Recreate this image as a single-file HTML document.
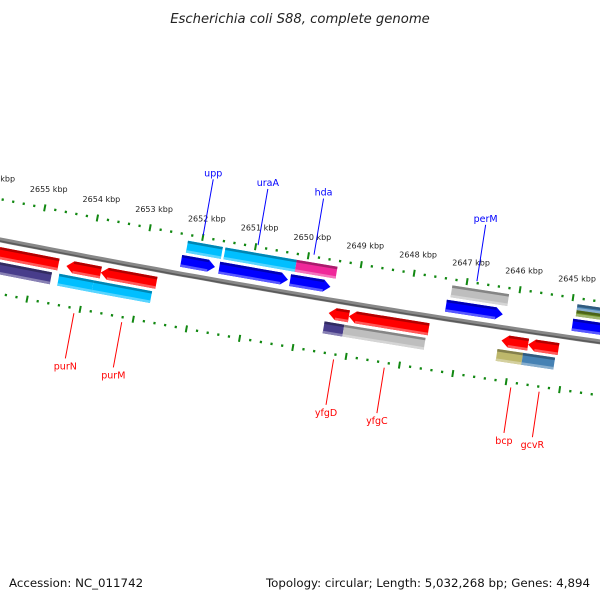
<!DOCTYPE html>
<html><head><meta charset="utf-8">
<style>
body{margin:0;background:#fff;}
svg{display:block;font-family:"DejaVu Sans","Liberation Sans",sans-serif;}
</style></head>
<body>
<svg id="map" width="600" height="600" viewBox="0 0 600 600" xmlns="http://www.w3.org/2000/svg">
<text x="300" y="23" text-anchor="middle" font-size="13.2" font-style="italic" fill="#222">Escherichia coli S88, complete genome</text>
<g id="ruler"></g>
<g id="genes"></g>
<g id="labels"></g>
<text x="9" y="587" font-size="11.8" fill="#111">Accession: NC_011742</text>
<text x="590" y="587" text-anchor="end" font-size="11.8" fill="#111">Topology: circular; Length: 5,032,268 bp; Genes: 4,894</text>
</svg>
<script>
// ---- data ----
const tickKbp = [2656,2655,2654,2653,2652,2651,2650,2649,2648,2647,2646,2645,2644];
const geneStart = [2652.32,2651.60,2650.26,2647.32,2644.94, 2652.26,2651.55,2650.20,2647.26,2644.90,2644.90, 2655.80,2654.40,2653.75,2649.45,2649.07,2646.20,2645.70, 2655.80,2654.50,2653.85,2649.50,2649.13,2646.25,2645.77];
const geneEnd   = [2651.68,2650.30,2649.50,2646.25,2644.00, 2651.60,2650.20,2649.43,2646.19,2644.00,2644.00, 2654.55,2653.75,2652.70,2649.07,2647.57,2645.70,2645.13, 2654.64,2653.85,2652.75,2649.13,2647.60,2645.77,2645.17];
const geneLane  = [1,1,1,1,1, 2,2,2,2,2.1,2.2, -1,-1,-1,-1,-1,-1,-1, -2,-2,-2,-2,-2,-2,-2];
const geneColor = ['#0000ff','#0000ff','#0000ff','#0000ff','#0000ff','#00bfff','#00bfff','#f0289a','#bebebe','#4682b4','#6b8e23','#ff0000','#ff0000','#ff0000','#ff0000','#ff0000','#ff0000','#ff0000','#483d8b','#00bfff','#00bfff','#483d8b','#bebebe','#bdb76b','#4682b4'];
const geneArrow = [1,1,1,1,1, 0,0,0,0,0,0, -1,-1,-1,-1,-1,-1,-1, 0,0,0,0,0,0,0];
const labelText = ['upp','uraA','hda','perM','purN','purM','yfgD','yfgC','bcp','gcvR'];
const labelKbp  = [2652.0,2650.96,2649.9,2646.82,2654.1,2653.2,2649.22,2648.27,2645.9,2645.37];
const labelSide = [1,1,1,1,-1,-1,-1,-1,-1,-1];

// ---- geometry ----
const NS='http://www.w3.org/2000/svg';
const cx=2244, cy=-11141, R=11600, th0=1.7483, dth=0.004636;
function P(k,off){const t=th0+(k-2652)*dth, r=R+off;return [cx+r*Math.cos(t), cy+r*Math.sin(t)];}
function mk(tag,attrs,parent){const e=document.createElementNS(NS,tag);for(const a in attrs)e.setAttribute(a,attrs[a]);parent.appendChild(e);return e;}
function pts(arr){return arr.map(p=>p[0].toFixed(1)+','+p[1].toFixed(1)).join(' ');}

const ruler=document.getElementById('ruler');
let d='';for(let k=2657;k>=2643;k-=0.25){const p=P(k,0);d+=(d?'L':'M')+p[0].toFixed(1)+' '+p[1].toFixed(1);}
const bb=mk('path',{d:d,fill:'none',stroke:'#888','stroke-width':5},ruler);


const bb2=mk('path',{d:d,fill:'none',stroke:'#5a5a5a','stroke-width':1.6,transform:'translate(0,1.2)'},ruler);



[-40,53].forEach(function(off){
  tickKbp.forEach(function(k){
    for(let s=0;s<5;s++){
      const kk=k-s*0.2;
      const half=s===0?3.5:1.2;
      const a=P(kk,off-half),b=P(kk,off+half);
      const ln=mk('line',{x1:a[0],y1:a[1],x2:b[0],y2:b[1],stroke:'#118811','stroke-width':s===0?2:2.2},ruler);
      
      
    }
  });
});
tickKbp.forEach(function(k){
  const p=P(k,-40);
  const t=mk('text',{x:p[0]+4,y:p[1]-16,'text-anchor':'middle','font-size':8,fill:'#222'},ruler);
  t.textContent=k+' kbp';
  
  
});

const laneOff={1:[-19,-7],2:[-34,-22],2.1:[-34,-28],2.2:[-28,-22],'-1':[7,19],'-2':[22,34]};
function shade(hex,f){const n=parseInt(hex.slice(1),16);let r=n>>16,g=(n>>8)&255,b=n&255;
  if(f<0){r*=1+f;g*=1+f;b*=1+f;}else{r+=(255-r)*f;g+=(255-g)*f;b+=(255-b)*f;}
  return 'rgb('+Math.round(r)+','+Math.round(g)+','+Math.round(b)+')';}
const genes=document.getElementById('genes');
geneStart.forEach(function(k1,i){
  const k2=geneEnd[i],o=laneOff[geneLane[i]],a=o[0],b=o[1],m=(a+b)/2,hd=0.13,col=geneColor[i];
  let poly;
  if(geneArrow[i]===1){poly=[P(k1,a),P(k2+hd,a),P(k2,m),P(k2+hd,b),P(k1,b)];}
  else if(geneArrow[i]===-1){poly=[P(k1,m),P(k1-hd,a),P(k2,a),P(k2,b),P(k1-hd,b)];}
  else poly=[P(k1,a),P(k2,a),P(k2,b),P(k1,b)];
  const g=mk('g',{},genes);
  
  
  mk('polygon',{points:pts(poly),fill:col},g);
  const s1=geneArrow[i]===-1?k1-hd:k1, s2=geneArrow[i]===1?k2+hd:k2;
  mk('polygon',{points:pts([P(s1,a),P(s2,a),P(s2,a+2.5),P(s1,a+2.5)]),fill:shade(col,-0.3)},g);
  mk('polygon',{points:pts([P(s1,b-2.5),P(s2,b-2.5),P(s2,b),P(s1,b)]),fill:shade(col,0.35)},g);
});

const labels=document.getElementById('labels');
labelText.forEach(function(txt,i){
  const up=labelSide[i]===1,col=up?'#0000ff':'#ff0000';
  const a=up?P(labelKbp[i],-42):P(labelKbp[i],58);
  const b=up?P(labelKbp[i],-99):P(labelKbp[i],104);
  const ln=mk('line',{x1:a[0],y1:a[1],x2:b[0],y2:b[1],stroke:col,'stroke-width':1},labels);
  
  
  const t=mk('text',{x:b[0],y:up?b[1]-3:b[1]+11,'text-anchor':'middle','font-size':9.5,fill:col},labels);
  t.textContent=txt;
  
  
});
</script>
</body></html>
